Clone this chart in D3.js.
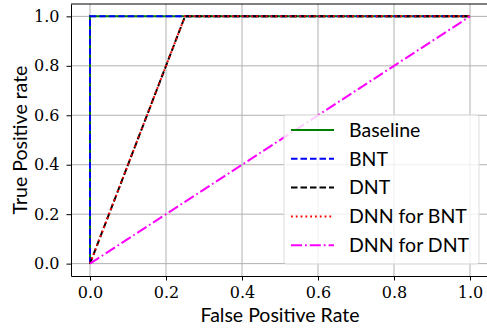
<!DOCTYPE html>
<html>
<head>
<meta charset="utf-8">
<script src="https://cdn.jsdelivr.net/npm/d3@7"></script>
<style>
  html, body { margin: 0; padding: 0; background: #fff; }
  svg { display: block; }
</style>
</head>
<body>
<svg id="chart" width="487" height="335"></svg>
<script>
// ROC curves: false positive rate vs true positive rate
const seriesNames = ["Baseline", "BNT", "DNT", "DNN for BNT", "DNN for DNT"];
const baselineFpr = [0, 0, 1];
const baselineTpr = [0, 1, 1];
const bntFpr = [0, 0, 1];
const bntTpr = [0, 1, 1];
const dntFpr = [0, 0.25, 1];
const dntTpr = [0, 1, 1];
const dnnBntFpr = [0, 0.25, 1];
const dnnBntTpr = [0, 1, 1];
const dnnDntFpr = [0, 1];
const dnnDntTpr = [0, 1];
const xTicks = [0, 0.2, 0.4, 0.6, 0.8, 1.0];
const yTicks = [0, 0.2, 0.4, 0.6, 0.8, 1.0];

const series = [
  { name: seriesNames[0], fpr: baselineFpr, tpr: baselineTpr, color: "#008000", dash: null },
  { name: seriesNames[1], fpr: bntFpr, tpr: bntTpr, color: "#0000ff", dash: "6.5,3" },
  { name: seriesNames[2], fpr: dntFpr, tpr: dntTpr, color: "#000000", dash: "6.5,3" },
  { name: seriesNames[3], fpr: dnnBntFpr, tpr: dnnBntTpr, color: "#ff0000", dash: "1.8,3" },
  { name: seriesNames[4], fpr: dnnDntFpr, tpr: dnnDntTpr, color: "#ff00ff", dash: "11,3,1.8,3" }
];

const svg = d3.select("#chart");
const plotLeft = 71, plotRight = 489, plotTop = 4, plotBottom = 276;

const x = d3.scaleLinear().domain([-0.05, 1.05]).range([plotLeft, plotRight]);
const y = d3.scaleLinear().domain([-0.05, 1.05]).range([plotBottom, plotTop]);

const serif = "'DejaVu Serif', serif";
const sans = "Lato, 'DejaVu Sans', sans-serif";

// grid
const grid = svg.append("g");
grid.selectAll("line.gx").data(xTicks).enter().append("line")
  .attr("x1", d => x(d)).attr("x2", d => x(d))
  .attr("y1", plotTop).attr("y2", plotBottom)
  .attr("stroke", "#b0b0b0").attr("stroke-width", 1);
grid.selectAll("line.gy").data(yTicks).enter().append("line")
  .attr("y1", d => y(d)).attr("y2", d => y(d))
  .attr("x1", plotLeft).attr("x2", plotRight)
  .attr("stroke", "#b0b0b0").attr("stroke-width", 1);

// curves
const line = d3.line().x(d => x(d[0])).y(d => y(d[1]));
series.forEach(s => {
  const pts = s.fpr.map((f, i) => [f, s.tpr[i]]);
  svg.append("path").datum(pts)
    .attr("d", line)
    .attr("fill", "none")
    .attr("stroke", s.color)
    .attr("stroke-width", 2)
    .attr("stroke-dasharray", s.dash);
});

// axes
const xAxis = svg.append("g").attr("transform", `translate(0,${plotBottom})`)
  .call(d3.axisBottom(x).tickValues(xTicks).tickFormat(d3.format(".1f")).tickSize(4.5).tickSizeOuter(0).tickPadding(6));
const yAxis = svg.append("g").attr("transform", `translate(${plotLeft},0)`)
  .call(d3.axisLeft(y).tickValues(yTicks).tickFormat(d3.format(".1f")).tickSize(4.5).tickSizeOuter(0).tickPadding(7));
[xAxis, yAxis].forEach(a => {
  a.attr("font-family", serif).attr("font-size", 16);
  a.selectAll("text").style("font-family", serif).style("font-size", "16px").attr("fill", "#000");
  a.selectAll("line").attr("stroke", "#000").attr("stroke-width", 1);
  a.select(".domain").attr("stroke", "#000").attr("stroke-width", 1);
});
// top and right spines
svg.append("line").attr("x1", plotLeft).attr("x2", plotRight).attr("y1", plotTop).attr("y2", plotTop)
  .attr("stroke", "#000").attr("stroke-width", 1);
svg.append("line").attr("x1", plotRight).attr("x2", plotRight).attr("y1", plotTop).attr("y2", plotBottom)
  .attr("stroke", "#000").attr("stroke-width", 1);

// axis labels
svg.append("text").attr("x", (plotLeft + plotRight) / 2).attr("y", 322)
  .attr("text-anchor", "middle").style("font-family", sans).style("font-size", "19.5px")
  .text("False Positive Rate");
svg.append("text").attr("transform", `translate(27,${(plotTop + plotBottom) / 2}) rotate(-90)`)
  .attr("text-anchor", "middle").style("font-family", sans).style("font-size", "19.5px")
  .text("True Positive rate");

// legend
const lg = svg.append("g").attr("transform", "translate(284,115)");
lg.append("rect").attr("width", 195).attr("height", 149).attr("rx", 3)
  .attr("fill", "#fff").attr("fill-opacity", 0.8)
  .attr("stroke", "#ddd").attr("stroke-width", 1);
series.forEach((s, i) => {
  const cy = 15 + i * 28.8;
  lg.append("line").attr("x1", 7).attr("x2", 50).attr("y1", cy).attr("y2", cy)
    .attr("stroke", s.color).attr("stroke-width", 2).attr("stroke-dasharray", s.dash);
  lg.append("text").attr("x", 65).attr("y", cy).attr("dy", "0.35em")
    .style("font-family", sans).style("font-size", "19.5px").text(s.name);
});
</script>
</body>
</html>
